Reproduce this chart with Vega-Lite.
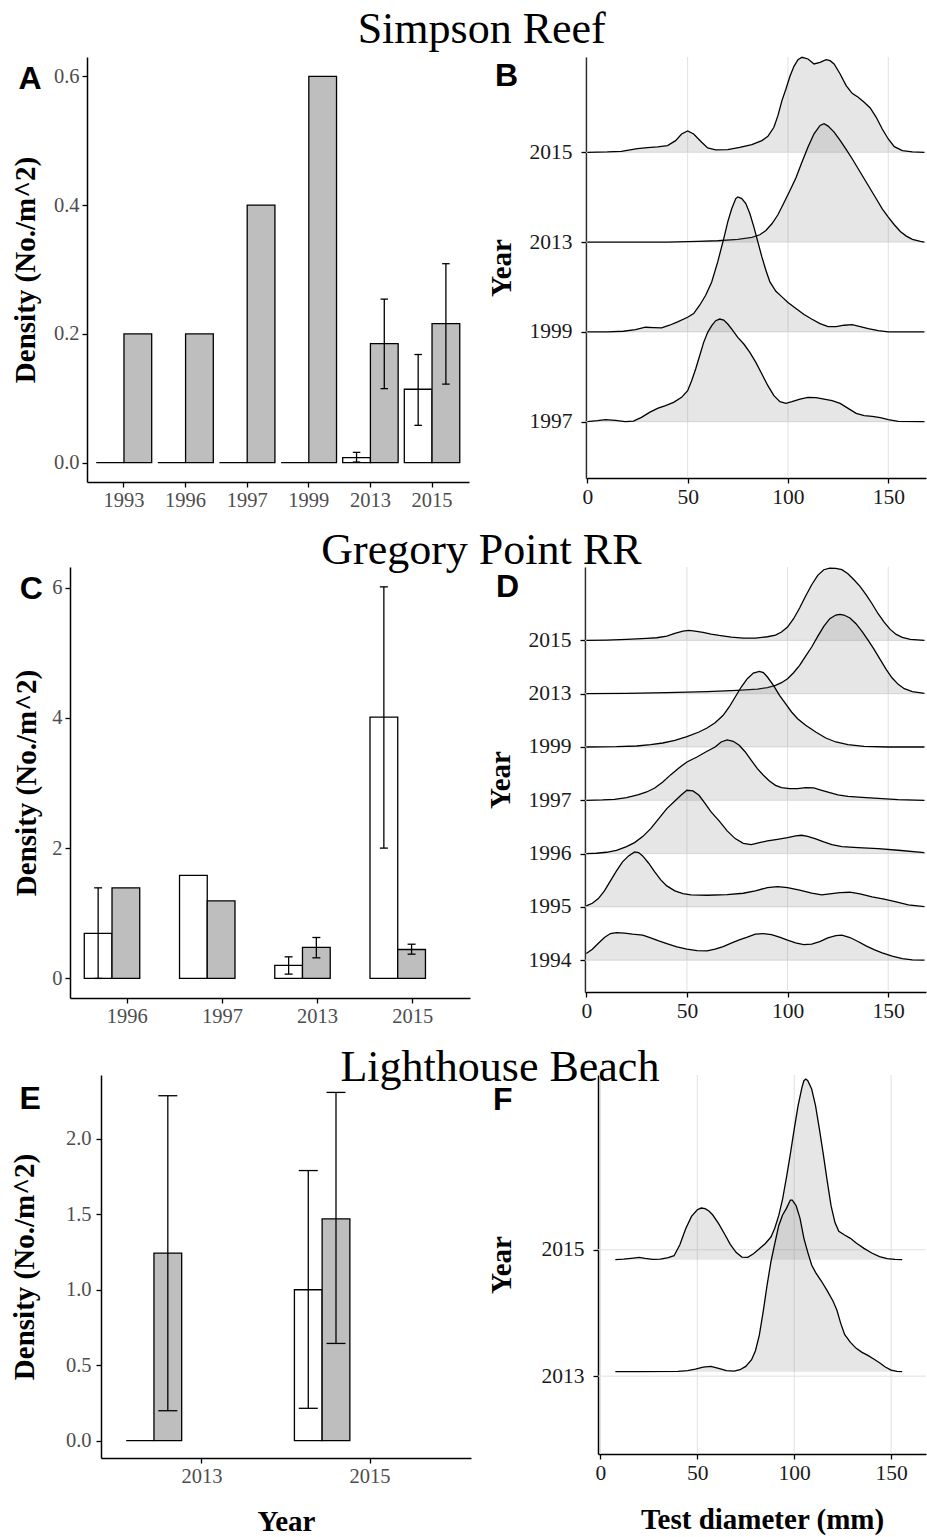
{
"$schema": "https://vega.github.io/schema/vega-lite/v6.json",
"background": "white",
"padding": {"left": 10, "top": 7, "right": 0, "bottom": 0},
"config": {
 "font": "Liberation Serif",
 "view": {"stroke": null},
 "axis": {"domainColor": "#000000", "domainWidth": 1.5, "tickColor": "#000000", "tickWidth": 1.3, "tickSize": 5, "labelFont": "Liberation Serif", "labelFontSize": 20.5, "labelColor": "#4d4d4d", "labelPadding": 3, "labelFlush": false, "titleFont": "Liberation Serif", "titleFontSize": 29, "titleFontWeight": "bold", "titleColor": "#000000", "grid": false},
 "title": {"font": "Liberation Serif", "color": "#000000", "fontWeight": "normal"}
},
"datasets": {
 "barsA": [{"year":"1993","grp":"g1","density":0},{"year":"1993","grp":"g2","density":0.2},{"year":"1996","grp":"g1","density":0},{"year":"1996","grp":"g2","density":0.2},{"year":"1997","grp":"g1","density":0},{"year":"1997","grp":"g2","density":0.4},{"year":"1999","grp":"g1","density":0},{"year":"1999","grp":"g2","density":0.6},{"year":"2013","grp":"g1","density":0.008,"lo":0.001,"hi":0.016},{"year":"2013","grp":"g2","density":0.185,"lo":0.115,"hi":0.254},{"year":"2015","grp":"g1","density":0.114,"lo":0.058,"hi":0.168},{"year":"2015","grp":"g2","density":0.216,"lo":0.122,"hi":0.309}],
 "barsC": [{"year":"1996","grp":"g1","density":0.69,"lo":0,"hi":1.39},{"year":"1996","grp":"g2","density":1.39},{"year":"1997","grp":"g1","density":1.58},{"year":"1997","grp":"g2","density":1.19},{"year":"2013","grp":"g1","density":0.2,"lo":0.066,"hi":0.331},{"year":"2013","grp":"g2","density":0.475,"lo":0.316,"hi":0.628},{"year":"2015","grp":"g1","density":4.01,"lo":2.0,"hi":6.01},{"year":"2015","grp":"g2","density":0.444,"lo":0.372,"hi":0.525}],
 "barsE": [{"year":"2013","grp":"g1","density":0},{"year":"2013","grp":"g2","density":1.243,"lo":0.198,"hi":2.286},{"year":"2015","grp":"g1","density":1.0,"lo":0.214,"hi":1.79},{"year":"2015","grp":"g2","density":1.47,"lo":0.644,"hi":2.308}],
 "gridlines": [{"v":0},{"v":50},{"v":100},{"v":150}],
 "ridgeB": [
  {"year":"2015","x":0,"d":0},{"year":"2015","x":10,"d":0.0001},{"year":"2015","x":17,"d":0.0003},{"year":"2015","x":25,"d":0.0011},{"year":"2015","x":30,"d":0.0014},{"year":"2015","x":35,"d":0.0016},{"year":"2015","x":40,"d":0.002},{"year":"2015","x":44,"d":0.0035},{"year":"2015","x":47,"d":0.0055},{"year":"2015","x":50,"d":0.0064},{"year":"2015","x":53,"d":0.0055},{"year":"2015","x":57,"d":0.003},{"year":"2015","x":60,"d":0.0013},{"year":"2015","x":64,"d":0.0007},{"year":"2015","x":70,"d":0.0008},{"year":"2015","x":76,"d":0.0015},{"year":"2015","x":82,"d":0.0023},{"year":"2015","x":87,"d":0.0035},{"year":"2015","x":90,"d":0.0048},{"year":"2015","x":93,"d":0.0075},{"year":"2015","x":95,"d":0.011},{"year":"2015","x":97,"d":0.0155},{"year":"2015","x":99,"d":0.019},{"year":"2015","x":101,"d":0.0228},{"year":"2015","x":103,"d":0.0258},{"year":"2015","x":105,"d":0.0278},{"year":"2015","x":107,"d":0.0285},{"year":"2015","x":110,"d":0.028},{"year":"2015","x":113,"d":0.0265},{"year":"2015","x":116,"d":0.027},{"year":"2015","x":119,"d":0.0278},{"year":"2015","x":121,"d":0.0275},{"year":"2015","x":123,"d":0.0265},{"year":"2015","x":126,"d":0.0235},{"year":"2015","x":129,"d":0.02},{"year":"2015","x":132,"d":0.0177},{"year":"2015","x":135,"d":0.0165},{"year":"2015","x":138,"d":0.015},{"year":"2015","x":141,"d":0.0133},{"year":"2015","x":144,"d":0.0105},{"year":"2015","x":147,"d":0.007},{"year":"2015","x":150,"d":0.004},{"year":"2015","x":153,"d":0.0017},{"year":"2015","x":157,"d":0.0005},{"year":"2015","x":162,"d":0.0001},{"year":"2015","x":168,"d":0},
  {"year":"2013","x":0,"d":0},{"year":"2013","x":20,"d":0},{"year":"2013","x":40,"d":0},{"year":"2013","x":55,"d":0.0002},{"year":"2013","x":65,"d":0.0004},{"year":"2013","x":75,"d":0.0008},{"year":"2013","x":82,"d":0.0014},{"year":"2013","x":86,"d":0.0022},{"year":"2013","x":89,"d":0.0035},{"year":"2013","x":92,"d":0.0055},{"year":"2013","x":95,"d":0.0082},{"year":"2013","x":98,"d":0.0118},{"year":"2013","x":101,"d":0.0155},{"year":"2013","x":104,"d":0.0193},{"year":"2013","x":107,"d":0.024},{"year":"2013","x":110,"d":0.0285},{"year":"2013","x":113,"d":0.0325},{"year":"2013","x":116,"d":0.035},{"year":"2013","x":118,"d":0.0355},{"year":"2013","x":120,"d":0.0348},{"year":"2013","x":123,"d":0.033},{"year":"2013","x":126,"d":0.0305},{"year":"2013","x":129,"d":0.0278},{"year":"2013","x":132,"d":0.025},{"year":"2013","x":135,"d":0.022},{"year":"2013","x":138,"d":0.019},{"year":"2013","x":141,"d":0.016},{"year":"2013","x":144,"d":0.013},{"year":"2013","x":147,"d":0.01},{"year":"2013","x":150,"d":0.0075},{"year":"2013","x":153,"d":0.0052},{"year":"2013","x":156,"d":0.0032},{"year":"2013","x":159,"d":0.0018},{"year":"2013","x":162,"d":0.0008},{"year":"2013","x":166,"d":0.0002},{"year":"2013","x":168,"d":0},
  {"year":"1999","x":0,"d":0},{"year":"1999","x":10,"d":0},{"year":"1999","x":18,"d":0.0002},{"year":"1999","x":24,"d":0.0007},{"year":"1999","x":29,"d":0.0014},{"year":"1999","x":33,"d":0.0013},{"year":"1999","x":37,"d":0.0012},{"year":"1999","x":41,"d":0.002},{"year":"1999","x":45,"d":0.003},{"year":"1999","x":50,"d":0.0044},{"year":"1999","x":53,"d":0.0055},{"year":"1999","x":56,"d":0.008},{"year":"1999","x":59,"d":0.011},{"year":"1999","x":62,"d":0.015},{"year":"1999","x":65,"d":0.021},{"year":"1999","x":68,"d":0.028},{"year":"1999","x":70,"d":0.033},{"year":"1999","x":72,"d":0.037},{"year":"1999","x":74,"d":0.04},{"year":"1999","x":75,"d":0.0405},{"year":"1999","x":77,"d":0.04},{"year":"1999","x":79,"d":0.0385},{"year":"1999","x":81,"d":0.0355},{"year":"1999","x":83,"d":0.0315},{"year":"1999","x":85,"d":0.027},{"year":"1999","x":87,"d":0.0225},{"year":"1999","x":89,"d":0.0185},{"year":"1999","x":91,"d":0.015},{"year":"1999","x":94,"d":0.0122},{"year":"1999","x":97,"d":0.0105},{"year":"1999","x":100,"d":0.0088},{"year":"1999","x":104,"d":0.007},{"year":"1999","x":108,"d":0.0052},{"year":"1999","x":112,"d":0.0038},{"year":"1999","x":116,"d":0.0025},{"year":"1999","x":120,"d":0.0016},{"year":"1999","x":124,"d":0.0016},{"year":"1999","x":128,"d":0.002},{"year":"1999","x":132,"d":0.0022},{"year":"1999","x":136,"d":0.0016},{"year":"1999","x":140,"d":0.001},{"year":"1999","x":145,"d":0.0004},{"year":"1999","x":150,"d":0},{"year":"1999","x":168,"d":0},
  {"year":"1997","x":0,"d":0},{"year":"1997","x":5,"d":0.0003},{"year":"1997","x":9,"d":0.0006},{"year":"1997","x":14,"d":0.0004},{"year":"1997","x":19,"d":0},{"year":"1997","x":23,"d":0.0002},{"year":"1997","x":27,"d":0.0013},{"year":"1997","x":31,"d":0.0028},{"year":"1997","x":35,"d":0.004},{"year":"1997","x":39,"d":0.0048},{"year":"1997","x":43,"d":0.0058},{"year":"1997","x":47,"d":0.0073},{"year":"1997","x":50,"d":0.0093},{"year":"1997","x":52,"d":0.0123},{"year":"1997","x":54,"d":0.0158},{"year":"1997","x":56,"d":0.0198},{"year":"1997","x":58,"d":0.0238},{"year":"1997","x":60,"d":0.0268},{"year":"1997","x":62,"d":0.0288},{"year":"1997","x":64,"d":0.0303},{"year":"1997","x":66,"d":0.0308},{"year":"1997","x":68,"d":0.0305},{"year":"1997","x":70,"d":0.0293},{"year":"1997","x":72,"d":0.0278},{"year":"1997","x":75,"d":0.0253},{"year":"1997","x":78,"d":0.0233},{"year":"1997","x":81,"d":0.0208},{"year":"1997","x":84,"d":0.0178},{"year":"1997","x":87,"d":0.0143},{"year":"1997","x":90,"d":0.0108},{"year":"1997","x":93,"d":0.0078},{"year":"1997","x":96,"d":0.006},{"year":"1997","x":99,"d":0.0055},{"year":"1997","x":102,"d":0.006},{"year":"1997","x":106,"d":0.0068},{"year":"1997","x":110,"d":0.0073},{"year":"1997","x":114,"d":0.0072},{"year":"1997","x":118,"d":0.0068},{"year":"1997","x":122,"d":0.0063},{"year":"1997","x":126,"d":0.0055},{"year":"1997","x":130,"d":0.004},{"year":"1997","x":134,"d":0.0025},{"year":"1997","x":138,"d":0.0018},{"year":"1997","x":142,"d":0.0016},{"year":"1997","x":146,"d":0.0012},{"year":"1997","x":150,"d":0.0006},{"year":"1997","x":155,"d":0.0001},{"year":"1997","x":168,"d":0}
 ],
 "ridgeD": [
  {"year":"2015","x":0,"d":0},{"year":"2015","x":10,"d":0.0001},{"year":"2015","x":20,"d":0.0003},{"year":"2015","x":30,"d":0.0006},{"year":"2015","x":35,"d":0.0008},{"year":"2015","x":40,"d":0.0013},{"year":"2015","x":44,"d":0.0021},{"year":"2015","x":48,"d":0.0028},{"year":"2015","x":51,"d":0.003},{"year":"2015","x":54,"d":0.0028},{"year":"2015","x":58,"d":0.0024},{"year":"2015","x":62,"d":0.0019},{"year":"2015","x":66,"d":0.0015},{"year":"2015","x":72,"d":0.001},{"year":"2015","x":78,"d":0.0007},{"year":"2015","x":84,"d":0.0007},{"year":"2015","x":90,"d":0.0011},{"year":"2015","x":94,"d":0.0016},{"year":"2015","x":97,"d":0.0025},{"year":"2015","x":100,"d":0.004},{"year":"2015","x":103,"d":0.0065},{"year":"2015","x":106,"d":0.0097},{"year":"2015","x":109,"d":0.0133},{"year":"2015","x":112,"d":0.0167},{"year":"2015","x":115,"d":0.0195},{"year":"2015","x":118,"d":0.0212},{"year":"2015","x":121,"d":0.0217},{"year":"2015","x":124,"d":0.0216},{"year":"2015","x":127,"d":0.0212},{"year":"2015","x":130,"d":0.02},{"year":"2015","x":133,"d":0.0182},{"year":"2015","x":136,"d":0.0162},{"year":"2015","x":139,"d":0.0137},{"year":"2015","x":142,"d":0.011},{"year":"2015","x":145,"d":0.008},{"year":"2015","x":148,"d":0.0055},{"year":"2015","x":151,"d":0.0033},{"year":"2015","x":154,"d":0.0018},{"year":"2015","x":157,"d":0.0009},{"year":"2015","x":161,"d":0.0003},{"year":"2015","x":168,"d":0},
  {"year":"2013","x":0,"d":0},{"year":"2013","x":20,"d":0.0001},{"year":"2013","x":40,"d":0.0003},{"year":"2013","x":60,"d":0.0006},{"year":"2013","x":75,"d":0.001},{"year":"2013","x":85,"d":0.0014},{"year":"2013","x":90,"d":0.0018},{"year":"2013","x":94,"d":0.0025},{"year":"2013","x":97,"d":0.0033},{"year":"2013","x":100,"d":0.0045},{"year":"2013","x":103,"d":0.0063},{"year":"2013","x":106,"d":0.0085},{"year":"2013","x":109,"d":0.0113},{"year":"2013","x":112,"d":0.014},{"year":"2013","x":115,"d":0.0172},{"year":"2013","x":118,"d":0.0202},{"year":"2013","x":121,"d":0.0225},{"year":"2013","x":124,"d":0.0236},{"year":"2013","x":126,"d":0.0238},{"year":"2013","x":128,"d":0.0236},{"year":"2013","x":131,"d":0.0227},{"year":"2013","x":134,"d":0.021},{"year":"2013","x":137,"d":0.0187},{"year":"2013","x":140,"d":0.0161},{"year":"2013","x":143,"d":0.0133},{"year":"2013","x":146,"d":0.0103},{"year":"2013","x":149,"d":0.0073},{"year":"2013","x":152,"d":0.0047},{"year":"2013","x":155,"d":0.0028},{"year":"2013","x":158,"d":0.0015},{"year":"2013","x":162,"d":0.0006},{"year":"2013","x":168,"d":0.0001},
  {"year":"1999","x":0,"d":0},{"year":"1999","x":15,"d":0.0001},{"year":"1999","x":25,"d":0.0003},{"year":"1999","x":32,"d":0.0007},{"year":"1999","x":38,"d":0.0012},{"year":"1999","x":44,"d":0.002},{"year":"1999","x":50,"d":0.0031},{"year":"1999","x":56,"d":0.0045},{"year":"1999","x":60,"d":0.0057},{"year":"1999","x":64,"d":0.0073},{"year":"1999","x":68,"d":0.0095},{"year":"1999","x":71,"d":0.012},{"year":"1999","x":74,"d":0.015},{"year":"1999","x":77,"d":0.018},{"year":"1999","x":80,"d":0.0205},{"year":"1999","x":83,"d":0.0222},{"year":"1999","x":86,"d":0.0227},{"year":"1999","x":88,"d":0.0223},{"year":"1999","x":90,"d":0.021},{"year":"1999","x":93,"d":0.0185},{"year":"1999","x":96,"d":0.0155},{"year":"1999","x":99,"d":0.013},{"year":"1999","x":102,"d":0.0105},{"year":"1999","x":105,"d":0.0085},{"year":"1999","x":109,"d":0.0065},{"year":"1999","x":114,"d":0.0045},{"year":"1999","x":119,"d":0.0027},{"year":"1999","x":124,"d":0.0015},{"year":"1999","x":130,"d":0.0007},{"year":"1999","x":138,"d":0.0002},{"year":"1999","x":150,"d":0},{"year":"1999","x":168,"d":0},
  {"year":"1997","x":0,"d":0},{"year":"1997","x":8,"d":0.0001},{"year":"1997","x":14,"d":0.0003},{"year":"1997","x":20,"d":0.0008},{"year":"1997","x":26,"d":0.0017},{"year":"1997","x":30,"d":0.0025},{"year":"1997","x":34,"d":0.0037},{"year":"1997","x":38,"d":0.0055},{"year":"1997","x":42,"d":0.0077},{"year":"1997","x":46,"d":0.0097},{"year":"1997","x":50,"d":0.0115},{"year":"1997","x":55,"d":0.013},{"year":"1997","x":60,"d":0.0147},{"year":"1997","x":64,"d":0.016},{"year":"1997","x":67,"d":0.0175},{"year":"1997","x":70,"d":0.0181},{"year":"1997","x":73,"d":0.0177},{"year":"1997","x":76,"d":0.0165},{"year":"1997","x":79,"d":0.0145},{"year":"1997","x":82,"d":0.012},{"year":"1997","x":85,"d":0.0095},{"year":"1997","x":88,"d":0.0075},{"year":"1997","x":91,"d":0.0058},{"year":"1997","x":94,"d":0.0045},{"year":"1997","x":97,"d":0.0038},{"year":"1997","x":101,"d":0.0035},{"year":"1997","x":105,"d":0.0035},{"year":"1997","x":109,"d":0.0038},{"year":"1997","x":113,"d":0.0037},{"year":"1997","x":117,"d":0.003},{"year":"1997","x":121,"d":0.0023},{"year":"1997","x":125,"d":0.0016},{"year":"1997","x":130,"d":0.0012},{"year":"1997","x":137,"d":0.0009},{"year":"1997","x":145,"d":0.0006},{"year":"1997","x":155,"d":0.0002},{"year":"1997","x":168,"d":0},
  {"year":"1996","x":0,"d":0},{"year":"1996","x":5,"d":0.0001},{"year":"1996","x":10,"d":0.0004},{"year":"1996","x":15,"d":0.001},{"year":"1996","x":20,"d":0.0021},{"year":"1996","x":24,"d":0.0033},{"year":"1996","x":28,"d":0.0051},{"year":"1996","x":32,"d":0.0075},{"year":"1996","x":36,"d":0.0105},{"year":"1996","x":40,"d":0.0135},{"year":"1996","x":44,"d":0.0158},{"year":"1996","x":47,"d":0.0175},{"year":"1996","x":50,"d":0.019},{"year":"1996","x":53,"d":0.0188},{"year":"1996","x":56,"d":0.0175},{"year":"1996","x":59,"d":0.0151},{"year":"1996","x":62,"d":0.0125},{"year":"1996","x":66,"d":0.0098},{"year":"1996","x":70,"d":0.0068},{"year":"1996","x":74,"d":0.0045},{"year":"1996","x":78,"d":0.0031},{"year":"1996","x":82,"d":0.0027},{"year":"1996","x":86,"d":0.0033},{"year":"1996","x":90,"d":0.0038},{"year":"1996","x":95,"d":0.0043},{"year":"1996","x":100,"d":0.0048},{"year":"1996","x":104,"d":0.0053},{"year":"1996","x":107,"d":0.0055},{"year":"1996","x":110,"d":0.0052},{"year":"1996","x":114,"d":0.0044},{"year":"1996","x":118,"d":0.0035},{"year":"1996","x":122,"d":0.0027},{"year":"1996","x":127,"d":0.0021},{"year":"1996","x":135,"d":0.0018},{"year":"1996","x":145,"d":0.0015},{"year":"1996","x":155,"d":0.001},{"year":"1996","x":168,"d":0.0003},
  {"year":"1995","x":0,"d":0.0003},{"year":"1995","x":3,"d":0.0011},{"year":"1995","x":6,"d":0.0025},{"year":"1995","x":9,"d":0.0048},{"year":"1995","x":12,"d":0.0078},{"year":"1995","x":15,"d":0.0108},{"year":"1995","x":18,"d":0.0135},{"year":"1995","x":21,"d":0.0153},{"year":"1995","x":24,"d":0.0165},{"year":"1995","x":26,"d":0.0163},{"year":"1995","x":28,"d":0.0153},{"year":"1995","x":31,"d":0.0131},{"year":"1995","x":34,"d":0.0105},{"year":"1995","x":37,"d":0.0081},{"year":"1995","x":40,"d":0.0063},{"year":"1995","x":44,"d":0.0048},{"year":"1995","x":48,"d":0.004},{"year":"1995","x":52,"d":0.0036},{"year":"1995","x":60,"d":0.0035},{"year":"1995","x":70,"d":0.0037},{"year":"1995","x":78,"d":0.0041},{"year":"1995","x":84,"d":0.0048},{"year":"1995","x":90,"d":0.0058},{"year":"1995","x":95,"d":0.0061},{"year":"1995","x":100,"d":0.0058},{"year":"1995","x":106,"d":0.005},{"year":"1995","x":112,"d":0.0041},{"year":"1995","x":117,"d":0.0036},{"year":"1995","x":121,"d":0.0039},{"year":"1995","x":126,"d":0.0043},{"year":"1995","x":131,"d":0.0044},{"year":"1995","x":136,"d":0.0039},{"year":"1995","x":142,"d":0.003},{"year":"1995","x":148,"d":0.0023},{"year":"1995","x":154,"d":0.0015},{"year":"1995","x":160,"d":0.0006},{"year":"1995","x":168,"d":0.0001},
  {"year":"1994","x":0,"d":0.002},{"year":"1994","x":3,"d":0.0033},{"year":"1994","x":6,"d":0.0051},{"year":"1994","x":9,"d":0.0068},{"year":"1994","x":12,"d":0.008},{"year":"1994","x":15,"d":0.0083},{"year":"1994","x":19,"d":0.0081},{"year":"1994","x":23,"d":0.0078},{"year":"1994","x":28,"d":0.0075},{"year":"1994","x":32,"d":0.0067},{"year":"1994","x":36,"d":0.0058},{"year":"1994","x":40,"d":0.005},{"year":"1994","x":45,"d":0.004},{"year":"1994","x":50,"d":0.0033},{"year":"1994","x":55,"d":0.0029},{"year":"1994","x":60,"d":0.0028},{"year":"1994","x":64,"d":0.0033},{"year":"1994","x":68,"d":0.0041},{"year":"1994","x":72,"d":0.0051},{"year":"1994","x":76,"d":0.0061},{"year":"1994","x":80,"d":0.0069},{"year":"1994","x":84,"d":0.0078},{"year":"1994","x":88,"d":0.008},{"year":"1994","x":92,"d":0.0077},{"year":"1994","x":96,"d":0.0069},{"year":"1994","x":100,"d":0.006},{"year":"1994","x":104,"d":0.0052},{"year":"1994","x":108,"d":0.0047},{"year":"1994","x":112,"d":0.0048},{"year":"1994","x":116,"d":0.0056},{"year":"1994","x":120,"d":0.0067},{"year":"1994","x":124,"d":0.0074},{"year":"1994","x":127,"d":0.0075},{"year":"1994","x":131,"d":0.0068},{"year":"1994","x":135,"d":0.0056},{"year":"1994","x":139,"d":0.0043},{"year":"1994","x":143,"d":0.0032},{"year":"1994","x":147,"d":0.0022},{"year":"1994","x":152,"d":0.0012},{"year":"1994","x":157,"d":0.0005},{"year":"1994","x":162,"d":0.0001},{"year":"1994","x":168,"d":0}
 ],
 "ridgeF": [
  {"year":"2015","x":7.7,"d":0},{"year":"2015","x":12,"d":0.0002},{"year":"2015","x":17,"d":0.0005},{"year":"2015","x":20,"d":0.0007},{"year":"2015","x":23,"d":0.0004},{"year":"2015","x":27,"d":0.0001},{"year":"2015","x":31,"d":0.0002},{"year":"2015","x":35,"d":0.0006},{"year":"2015","x":38,"d":0.0012},{"year":"2015","x":41,"d":0.0045},{"year":"2015","x":44,"d":0.0093},{"year":"2015","x":47,"d":0.013},{"year":"2015","x":50,"d":0.015},{"year":"2015","x":52,"d":0.0155},{"year":"2015","x":54,"d":0.0153},{"year":"2015","x":56,"d":0.0146},{"year":"2015","x":58,"d":0.0134},{"year":"2015","x":61,"d":0.0108},{"year":"2015","x":64,"d":0.0078},{"year":"2015","x":67,"d":0.0046},{"year":"2015","x":70,"d":0.0022},{"year":"2015","x":73,"d":0.0008},{"year":"2015","x":76,"d":0.0007},{"year":"2015","x":79,"d":0.0018},{"year":"2015","x":82,"d":0.0033},{"year":"2015","x":85,"d":0.0048},{"year":"2015","x":88,"d":0.0068},{"year":"2015","x":90,"d":0.0095},{"year":"2015","x":92,"d":0.0132},{"year":"2015","x":94,"d":0.0182},{"year":"2015","x":96,"d":0.0247},{"year":"2015","x":98,"d":0.0317},{"year":"2015","x":100,"d":0.0392},{"year":"2015","x":102,"d":0.0462},{"year":"2015","x":104,"d":0.0517},{"year":"2015","x":105,"d":0.0537},{"year":"2015","x":106,"d":0.0542},{"year":"2015","x":107,"d":0.0537},{"year":"2015","x":109,"d":0.0512},{"year":"2015","x":111,"d":0.0462},{"year":"2015","x":113,"d":0.0392},{"year":"2015","x":115,"d":0.0317},{"year":"2015","x":117,"d":0.0237},{"year":"2015","x":119,"d":0.0162},{"year":"2015","x":121,"d":0.0112},{"year":"2015","x":123,"d":0.0085},{"year":"2015","x":126,"d":0.0074},{"year":"2015","x":129,"d":0.0064},{"year":"2015","x":132,"d":0.005},{"year":"2015","x":136,"d":0.0034},{"year":"2015","x":140,"d":0.002},{"year":"2015","x":144,"d":0.0009},{"year":"2015","x":148,"d":0.0003},{"year":"2015","x":152,"d":0.0001},{"year":"2015","x":155.7,"d":0},
  {"year":"2013","x":7.7,"d":0},{"year":"2013","x":20,"d":0},{"year":"2013","x":40,"d":0.0001},{"year":"2013","x":45,"d":0.0003},{"year":"2013","x":49,"d":0.0008},{"year":"2013","x":53,"d":0.0014},{"year":"2013","x":57,"d":0.0016},{"year":"2013","x":61,"d":0.001},{"year":"2013","x":65,"d":0.0003},{"year":"2013","x":69,"d":0.0002},{"year":"2013","x":72,"d":0.0006},{"year":"2013","x":75,"d":0.0016},{"year":"2013","x":78,"d":0.0036},{"year":"2013","x":80,"d":0.0063},{"year":"2013","x":82,"d":0.011},{"year":"2013","x":84,"d":0.018},{"year":"2013","x":86,"d":0.026},{"year":"2013","x":88,"d":0.033},{"year":"2013","x":90,"d":0.0385},{"year":"2013","x":92,"d":0.0438},{"year":"2013","x":94,"d":0.047},{"year":"2013","x":96,"d":0.049},{"year":"2013","x":98,"d":0.0515},{"year":"2013","x":99,"d":0.0515},{"year":"2013","x":101,"d":0.0498},{"year":"2013","x":103,"d":0.046},{"year":"2013","x":105,"d":0.04},{"year":"2013","x":107,"d":0.0358},{"year":"2013","x":109,"d":0.032},{"year":"2013","x":111,"d":0.0298},{"year":"2013","x":114,"d":0.0272},{"year":"2013","x":117,"d":0.0243},{"year":"2013","x":120,"d":0.0212},{"year":"2013","x":122,"d":0.0185},{"year":"2013","x":124,"d":0.0145},{"year":"2013","x":126,"d":0.0112},{"year":"2013","x":129,"d":0.0088},{"year":"2013","x":132,"d":0.007},{"year":"2013","x":135,"d":0.0058},{"year":"2013","x":138,"d":0.0049},{"year":"2013","x":141,"d":0.0038},{"year":"2013","x":144,"d":0.0027},{"year":"2013","x":147,"d":0.0014},{"year":"2013","x":150,"d":0.0005},{"year":"2013","x":153,"d":0.0001},{"year":"2013","x":155.7,"d":0}
 ]
},
"concat": [
 {"title": {"text": "Simpson Reef", "fontSize": 44, "anchor": "middle", "dx": 12.5, "offset": 3},
  "spacing": 18,
  "hconcat": [
   {"width": 399, "height": 425,
    "title": {"text": "A", "font": "Liberation Sans", "fontSize": 32, "fontWeight": "bold", "anchor": "start", "offset": -39, "dx": 7},
    "data": {"name": "barsA"},
    "encoding": {
     "x": {"field": "year", "type": "nominal", "scale": {"paddingInner": 0.1, "paddingOuter": 0.15, "range": [17, 399]}, "axis": {"title": null, "labelAngle": 0}},
     "xOffset": {"field": "grp", "type": "nominal", "scale": {"paddingInner": 0, "paddingOuter": 0}},
     "y": {"type": "quantitative", "scale": {"domain": [-0.03, 0.63], "nice": false}, "axis": {"title": "Density (No./m^2)", "values": [0, 0.2, 0.4, 0.6], "format": ".1f", "titlePadding": 13, "offset": -17}}
    },
    "layer": [
     {"mark": {"type": "bar", "stroke": "#000000", "strokeWidth": 1.3},
      "encoding": {"y": {"field": "density"}, "fill": {"field": "grp", "type": "nominal", "scale": {"domain": ["g1", "g2"], "range": ["#ffffff", "#bebebe"]}, "legend": null}}},
     {"transform": [{"filter": "isValid(datum.lo)"}], "mark": {"type": "rule", "color": "#000000", "strokeWidth": 1.3}, "encoding": {"y": {"field": "lo"}, "y2": {"field": "hi"}}},
     {"transform": [{"filter": "isValid(datum.lo)"}], "mark": {"type": "tick", "color": "#000000", "thickness": 1.3, "size": 7.5, "opacity": 1}, "encoding": {"y": {"field": "lo"}}},
     {"transform": [{"filter": "isValid(datum.hi)"}], "mark": {"type": "tick", "color": "#000000", "thickness": 1.3, "size": 7.5, "opacity": 1}, "encoding": {"y": {"field": "hi"}}}
    ]
   },
   {"width": 340, "height": 421,
    "title": {"text": "B", "font": "Liberation Sans", "fontSize": 32, "fontWeight": "bold", "anchor": "start", "offset": -38, "dx": 8},
    "data": {"name": "ridgeB"},
    "layer": [
     {"data": {"name": "gridlines"},
      "mark": {"type": "rule", "color": "#e0e0e0", "strokeWidth": 1},
      "encoding": {"x": {"field": "v", "type": "quantitative", "scale": {"domain": [-0.65, 168.8], "nice": false, "zero": false}, "axis": {"orient": "bottom", "values": [0, 50, 100, 150], "title": null, "domain": true, "domainColor": "#000000", "domainWidth": 1.5, "ticks": true, "labelColor": "#1a1a1a", "labelFontSize": 21.5, "tickSize": 5}}}},
     {"data": {"values": [{"year": "2015"}, {"year": "2013"}, {"year": "1999"}, {"year": "1997"}]},
      "mark": {"type": "rule", "color": "#e0e0e0", "strokeWidth": 1},
      "encoding": {"y": {"field": "year", "type": "ordinal", "scale": {"type": "point", "domain": ["2015", "2013", "1999", "1997"], "padding": 0.8441, "align": 0.6286}, "axis": {"title": "Year", "labelColor": "#1a1a1a", "labelFontSize": 21.5, "tickSize": 5, "labelPadding": 9, "titlePadding": 13}}}},
     {"transform": [{"filter": "datum.year === '2015'"}],
      "encoding": {"x": {"field": "x", "type": "quantitative"}, "y": {"field": "d", "type": "quantitative", "scale": {"domain": [0, 0.03], "range": [95.3, -4.7]}, "axis": null}},
      "layer": [{"mark": {"type": "area", "color": "#808080", "opacity": 0.2}}, {"mark": {"type": "line", "color": "#000000", "strokeWidth": 1.3}}]},
     {"transform": [{"filter": "datum.year === '2013'"}],
      "encoding": {"x": {"field": "x", "type": "quantitative"}, "y": {"field": "d", "type": "quantitative", "scale": {"domain": [0, 0.03], "range": [185.1, 85.1]}, "axis": null}},
      "layer": [{"mark": {"type": "area", "color": "#808080", "opacity": 0.2}}, {"mark": {"type": "line", "color": "#000000", "strokeWidth": 1.3}}]},
     {"transform": [{"filter": "datum.year === '1999'"}],
      "encoding": {"x": {"field": "x", "type": "quantitative"}, "y": {"field": "d", "type": "quantitative", "scale": {"domain": [0, 0.03], "range": [274.9, 174.9]}, "axis": null}},
      "layer": [{"mark": {"type": "area", "color": "#808080", "opacity": 0.2}}, {"mark": {"type": "line", "color": "#000000", "strokeWidth": 1.3}}]},
     {"transform": [{"filter": "datum.year === '1997'"}],
      "encoding": {"x": {"field": "x", "type": "quantitative"}, "y": {"field": "d", "type": "quantitative", "scale": {"domain": [0, 0.03], "range": [364.7, 264.7]}, "axis": null}},
      "layer": [{"mark": {"type": "area", "color": "#808080", "opacity": 0.2}}, {"mark": {"type": "line", "color": "#000000", "strokeWidth": 1.3}}]}
    ],
    "resolve": {"scale": {"y": "independent"}}
   }
  ]
 },
 {"title": {"text": "Gregory Point RR", "fontSize": 44, "anchor": "middle", "dx": 11.5, "offset": -8},
  "spacing": 16,
  "hconcat": [
   {"width": 400, "height": 431,
    "title": {"text": "C", "font": "Liberation Sans", "fontSize": 32, "fontWeight": "bold", "anchor": "start", "offset": -39, "dx": 7},
    "data": {"name": "barsC"},
    "encoding": {
     "x": {"field": "year", "type": "nominal", "scale": {"paddingInner": 0.1, "paddingOuter": 0.15}, "axis": {"title": null, "labelAngle": 0}},
     "xOffset": {"field": "grp", "type": "nominal", "scale": {"paddingInner": 0, "paddingOuter": 0}},
     "y": {"type": "quantitative", "scale": {"domain": [-0.3007, 6.3147], "nice": false}, "axis": {"title": "Density (No./m^2)", "values": [0, 2, 4, 6], "format": "d", "titlePadding": 10}}
    },
    "layer": [
     {"mark": {"type": "bar", "stroke": "#000000", "strokeWidth": 1.3},
      "encoding": {"y": {"field": "density"}, "fill": {"field": "grp", "type": "nominal", "scale": {"domain": ["g1", "g2"], "range": ["#ffffff", "#bebebe"]}, "legend": null}}},
     {"transform": [{"filter": "isValid(datum.lo)"}], "mark": {"type": "rule", "color": "#000000", "strokeWidth": 1.3}, "encoding": {"y": {"field": "lo"}, "y2": {"field": "hi"}}},
     {"transform": [{"filter": "isValid(datum.lo)"}], "mark": {"type": "tick", "color": "#000000", "thickness": 1.3, "size": 8, "opacity": 1}, "encoding": {"y": {"field": "lo"}}},
     {"transform": [{"filter": "isValid(datum.hi)"}], "mark": {"type": "tick", "color": "#000000", "thickness": 1.3, "size": 8, "opacity": 1}, "encoding": {"y": {"field": "hi"}}}
    ]
   },
   {"width": 341, "height": 425,
    "title": {"text": "D", "font": "Liberation Sans", "fontSize": 32, "fontWeight": "bold", "anchor": "start", "offset": -39, "dx": 10},
    "data": {"name": "ridgeD"},
    "layer": [
     {"data": {"name": "gridlines"},
      "mark": {"type": "rule", "color": "#e0e0e0", "strokeWidth": 1},
      "encoding": {"x": {"field": "v", "type": "quantitative", "scale": {"domain": [-0.65, 168.8], "nice": false, "zero": false}, "axis": {"orient": "bottom", "values": [0, 50, 100, 150], "title": null, "domain": true, "domainColor": "#000000", "domainWidth": 1.5, "ticks": true, "labelColor": "#1a1a1a", "labelFontSize": 21.5, "tickSize": 5}}}},
     {"data": {"values": [{"year": "2015"}, {"year": "2013"}, {"year": "1999"}, {"year": "1997"}, {"year": "1996"}, {"year": "1995"}, {"year": "1994"}]},
      "mark": {"type": "rule", "color": "#e0e0e0", "strokeWidth": 1},
      "encoding": {"y": {"field": "year", "type": "ordinal", "scale": {"type": "point", "domain": ["2015", "2013", "1999", "1997", "1996", "1995", "1994"], "padding": 0.9869, "align": 0.6977}, "axis": {"title": "Year", "labelColor": "#1a1a1a", "labelFontSize": 21.5, "tickSize": 5, "labelPadding": 9, "titlePadding": 13}}}},
     {"transform": [{"filter": "datum.year === '2015'"}],
      "encoding": {"x": {"field": "x", "type": "quantitative"}, "y": {"field": "d", "type": "quantitative", "scale": {"domain": [0, 0.03], "range": [73.4, -26.6]}, "axis": null}},
      "layer": [{"mark": {"type": "area", "color": "#808080", "opacity": 0.2}}, {"mark": {"type": "line", "color": "#000000", "strokeWidth": 1.3}}]},
     {"transform": [{"filter": "datum.year === '2013'"}],
      "encoding": {"x": {"field": "x", "type": "quantitative"}, "y": {"field": "d", "type": "quantitative", "scale": {"domain": [0, 0.03], "range": [126.7, 26.7]}, "axis": null}},
      "layer": [{"mark": {"type": "area", "color": "#808080", "opacity": 0.2}}, {"mark": {"type": "line", "color": "#000000", "strokeWidth": 1.3}}]},
     {"transform": [{"filter": "datum.year === '1999'"}],
      "encoding": {"x": {"field": "x", "type": "quantitative"}, "y": {"field": "d", "type": "quantitative", "scale": {"domain": [0, 0.03], "range": [180, 80]}, "axis": null}},
      "layer": [{"mark": {"type": "area", "color": "#808080", "opacity": 0.2}}, {"mark": {"type": "line", "color": "#000000", "strokeWidth": 1.3}}]},
     {"transform": [{"filter": "datum.year === '1997'"}],
      "encoding": {"x": {"field": "x", "type": "quantitative"}, "y": {"field": "d", "type": "quantitative", "scale": {"domain": [0, 0.03], "range": [233.3, 133.3]}, "axis": null}},
      "layer": [{"mark": {"type": "area", "color": "#808080", "opacity": 0.2}}, {"mark": {"type": "line", "color": "#000000", "strokeWidth": 1.3}}]},
     {"transform": [{"filter": "datum.year === '1996'"}],
      "encoding": {"x": {"field": "x", "type": "quantitative"}, "y": {"field": "d", "type": "quantitative", "scale": {"domain": [0, 0.03], "range": [286.6, 186.6]}, "axis": null}},
      "layer": [{"mark": {"type": "area", "color": "#808080", "opacity": 0.2}}, {"mark": {"type": "line", "color": "#000000", "strokeWidth": 1.3}}]},
     {"transform": [{"filter": "datum.year === '1995'"}],
      "encoding": {"x": {"field": "x", "type": "quantitative"}, "y": {"field": "d", "type": "quantitative", "scale": {"domain": [0, 0.03], "range": [339.9, 239.9]}, "axis": null}},
      "layer": [{"mark": {"type": "area", "color": "#808080", "opacity": 0.2}}, {"mark": {"type": "line", "color": "#000000", "strokeWidth": 1.3}}]},
     {"transform": [{"filter": "datum.year === '1994'"}],
      "encoding": {"x": {"field": "x", "type": "quantitative"}, "y": {"field": "d", "type": "quantitative", "scale": {"domain": [0, 0.03], "range": [393.2, 293.2]}, "axis": null}},
      "layer": [{"mark": {"type": "area", "color": "#808080", "opacity": 0.2}}, {"mark": {"type": "line", "color": "#000000", "strokeWidth": 1.3}}]}
    ],
    "resolve": {"scale": {"y": "independent"}}
   }
  ]
 },
 {"title": {"text": "Lighthouse Beach", "fontSize": 44, "anchor": "middle", "dx": 31.5, "offset": -15},
  "spacing": 16,
  "hconcat": [
   {"width": 401, "height": 383,
    "title": {"text": "E", "font": "Liberation Sans", "fontSize": 32, "fontWeight": "bold", "anchor": "start", "offset": -41, "dx": 9},
    "data": {"name": "barsE"},
    "encoding": {
     "x": {"field": "year", "type": "nominal", "scale": {"paddingInner": 0.1, "paddingOuter": 0.15, "range": [31, 401]}, "axis": {"title": "Year", "labelAngle": 0, "titlePadding": 21}},
     "xOffset": {"field": "grp", "type": "nominal", "scale": {"paddingInner": 0, "paddingOuter": 0}},
     "y": {"type": "quantitative", "scale": {"domain": [-0.1154, 2.4234], "nice": false}, "axis": {"title": "Density (No./m^2)", "values": [0, 0.5, 1, 1.5, 2], "format": ".1f", "titlePadding": 26, "labelPadding": 5, "offset": -31}}
    },
    "layer": [
     {"mark": {"type": "bar", "stroke": "#000000", "strokeWidth": 1.3},
      "encoding": {"y": {"field": "density"}, "fill": {"field": "grp", "type": "nominal", "scale": {"domain": ["g1", "g2"], "range": ["#ffffff", "#bebebe"]}, "legend": null}}},
     {"transform": [{"filter": "isValid(datum.lo)"}], "mark": {"type": "rule", "color": "#000000", "strokeWidth": 1.3}, "encoding": {"y": {"field": "lo"}, "y2": {"field": "hi"}}},
     {"transform": [{"filter": "isValid(datum.lo)"}], "mark": {"type": "tick", "color": "#000000", "thickness": 1.3, "size": 19, "opacity": 1}, "encoding": {"y": {"field": "lo"}}},
     {"transform": [{"filter": "isValid(datum.hi)"}], "mark": {"type": "tick", "color": "#000000", "thickness": 1.3, "size": 19, "opacity": 1}, "encoding": {"y": {"field": "hi"}}}
    ]
   },
   {"width": 328, "height": 379,
    "title": {"text": "F", "font": "Liberation Sans", "fontSize": 32, "fontWeight": "bold", "anchor": "start", "offset": -42, "dx": 6},
    "data": {"name": "ridgeF"},
    "layer": [
     {"data": {"name": "gridlines"},
      "mark": {"type": "rule", "color": "#e0e0e0", "strokeWidth": 1},
      "encoding": {"x": {"field": "v", "type": "quantitative", "scale": {"domain": [-1.24, 168], "nice": false, "zero": false}, "axis": {"orient": "bottom", "values": [0, 50, 100, 150], "title": "Test diameter (mm)", "titlePadding": 22, "domain": true, "domainColor": "#000000", "domainWidth": 1.5, "ticks": true, "labelColor": "#1a1a1a", "labelFontSize": 21.5, "tickSize": 5}}}},
     {"data": {"values": [{"year": "2015"}, {"year": "2013"}]},
      "mark": {"type": "rule", "color": "#e0e0e0", "strokeWidth": 1},
      "encoding": {"y": {"field": "year", "type": "ordinal", "scale": {"type": "point", "domain": ["2015", "2013"], "padding": 1.192, "align": 0.6918}, "axis": {"title": "Year", "labelColor": "#1a1a1a", "labelFontSize": 21.5, "tickSize": 5, "labelPadding": 9, "titlePadding": 25}}}},
     {"transform": [{"filter": "datum.year === '2015'"}],
      "encoding": {"x": {"field": "x", "type": "quantitative"}, "y": {"field": "d", "type": "quantitative", "scale": {"domain": [0, 0.03], "range": [184.7, 84.7]}, "axis": null}},
      "layer": [{"mark": {"type": "area", "color": "#808080", "opacity": 0.2}}, {"mark": {"type": "line", "color": "#000000", "strokeWidth": 1.3}}]},
     {"transform": [{"filter": "datum.year === '2013'"}],
      "encoding": {"x": {"field": "x", "type": "quantitative"}, "y": {"field": "d", "type": "quantitative", "scale": {"domain": [0, 0.03], "range": [296.7, 196.7]}, "axis": null}},
      "layer": [{"mark": {"type": "area", "color": "#808080", "opacity": 0.2}}, {"mark": {"type": "line", "color": "#000000", "strokeWidth": 1.3}}]}
    ],
    "resolve": {"scale": {"y": "independent"}}
   }
  ]
 }
],
"columns": 1,
"align": "none",
"spacing": 18
}
